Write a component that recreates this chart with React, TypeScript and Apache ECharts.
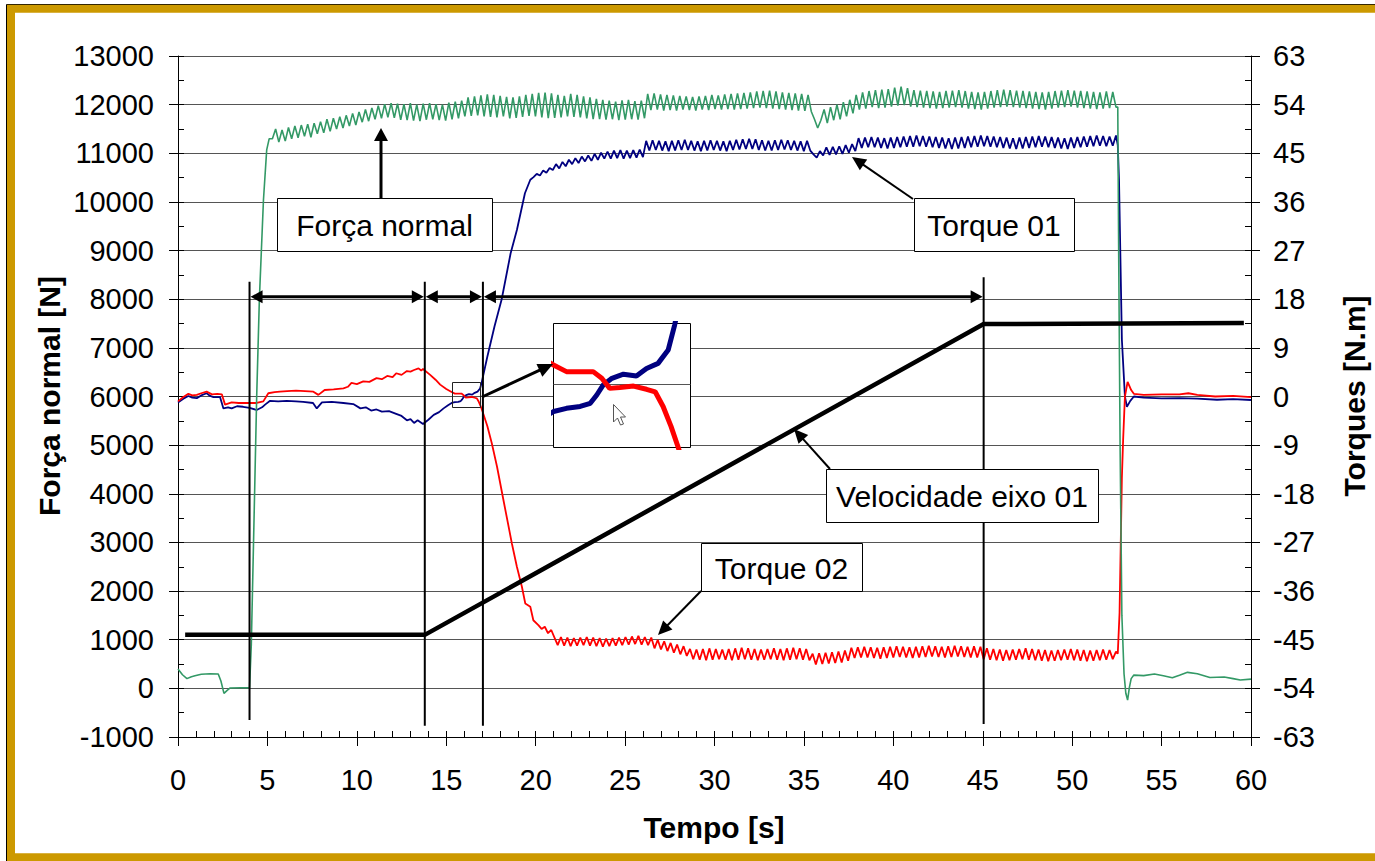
import React, { useEffect, useRef } from "react";
import * as echarts from "echarts";

const FONT = "'Liberation Sans', Arial, Helvetica, sans-serif";

// ---- axes ----
const timeAxis = { min: 0, max: 60, step: 5 };
const forceAxis = { min: -1000, max: 13000, step: 1000 };
const torqueAxis = { min: -63, max: 63, step: 9 };
const insetTime = { min: 15.3, max: 17.2 };
const insetTorque = { min: -2.77, max: 2.64 };

// ---- Força normal [N] ----
const forcePre: number[][] = [
  [0, 397], [0.25, 280], [0.5, 200], [0.75, 240], [0.95, 259], [1.3, 290], [1.8, 300], [2.25, 294],
  [2.4, 150], [2.57, -103], [2.75, -40], [2.9, 6], [3.5, 12], [4.0, 12], [4.1, 900], [4.2, 2600],
  [4.3, 4300], [4.4, 6000], [4.55, 8000], [4.78, 10050], [4.96, 11070], [5.1, 11300],
];
const forceWaveSpan = [5.28, 52.45];
const forceWave = [
  11300, 11500, 11230, 11480, 11250, 11530,
  11300, 11560, 11320, 11580, 11350, 11600, 11330, 11620, 11400, 11650, 11420,
  11700, 11450, 11720, 11500, 11750, 11520, 11780, 11560, 11820, 11580, 11850,
  11640, 11900, 11660, 11930, 11700, 11980, 11720, 12010, 11740, 12030, 11730,
  12020, 11690, 12010, 11680, 12030, 11670, 12000, 11660, 12020, 11690, 12030, 11700, 12010, 11680, 12000, 11670, 12040, 11700, 12060, 11720, 12080,
  11760, 12150, 11770, 12170, 11780, 12190, 11760, 12210, 11750, 12200, 11740, 12180, 11760, 12160, 11720, 12150, 11730, 12170, 11750, 12200, 11770, 12220, 11760,
  12240, 11740, 12250, 11720, 12230, 11730, 12200, 11740, 12180, 11760, 12220, 11750, 12200, 11740, 12170, 11720, 12150, 11700, 12120, 11700,
  12100, 11690, 12080, 11700, 12060, 11680, 12090, 11690, 12100, 11700, 12070, 11690, 12080, 11720,
  12220, 11890, 12230, 11900, 12210, 11880, 12200, 11890, 12190, 11880, 12180, 11900, 12170, 11890, 12160, 11880, 12170, 11900, 12180, 11890, 12200, 11910, 12190, 11900, 12210,
  11910, 12220, 11900, 12230, 11910, 12240, 11920, 12250, 11930, 12270, 11940, 12280, 11930, 12290, 11920, 12270, 11910, 12250, 11900, 12240, 11890, 12230, 11880, 12220, 11870, 12200, 11860,
  11700, 11520, 11680,
  11900, 11620, 11950, 11680, 12000, 11700, 12050, 11760, 12100, 11820,
  12200, 11900, 12250, 11920, 12280, 11950, 12300, 11930, 12310, 11940,
  12320, 11960, 12350, 11980, 12370, 11990, 12340, 11960, 12300, 11950,
  12290, 11940, 12280, 11930, 12270, 11920, 12260, 11930, 12280, 11940,
  12290, 11950, 12300, 11940, 12280, 11920, 12260, 11910, 12250, 11900,
  12260, 11920, 12280, 11940, 12300, 11950, 12310, 11960, 12300, 11950,
  12290, 11940, 12280, 11930, 12270, 11920, 12260, 11910, 12250, 11900,
  12260, 11920, 12280, 11940, 12290, 11950, 12300, 11960, 12290, 11940,
  12280, 11930, 12270, 11920, 12260, 11910, 12250, 11920, 12270, 11930,
  12260, 11950,
];
const forceTail: number[][] = [
  [52.55, 11950], [52.6, 9000], [52.68, 5000], [52.78, 1500], [52.9, 300], [53.0, -100], [53.1, -240],
  [53.2, 20], [53.3, 200], [53.45, 273], [54.0, 262], [54.6, 294], [55.1, 260], [55.6, 218], [56.0, 270],
  [56.45, 329], [57.0, 300], [57.7, 224], [58.5, 235], [59.0, 200], [59.4, 171], [60, 190],
];

// ---- Torque 01 [N.m] ----
const torque1Pre: number[][] = [
  [0, -1.1], [0.3, -0.4], [0.58, 0.1], [0.8, -0.2], [1.05, -0.3], [1.3, 0.2], [1.6, 0.6], [1.8, 0.1],
  [1.98, -0.1], [2.35, -0.1], [2.54, -2.2], [2.8, -2.0], [3.0, -2.2], [3.3, -1.8], [3.64, -1.9], [4.0, -2.1],
  [4.4, -2.5], [4.7, -2.0], [4.87, -1.5], [5.15, -0.8], [5.6, -0.9], [6.08, -0.8], [6.6, -0.9], [7.0, -1.0],
  [7.55, -1.2], [7.76, -2.2], [8.05, -1.1], [8.6, -1.0], [9.25, -1.2], [9.8, -1.4], [10.2, -2.2], [10.5, -2.0],
  [10.8, -2.6], [11.1, -2.4], [11.4, -2.8], [11.8, -2.7], [12.2, -3.2], [12.5, -3.6], [12.8, -4.4], [13.0, -4.2],
  [13.2, -4.9], [13.4, -4.4], [13.7, -5.1], [14.0, -4.3], [14.3, -3.4], [14.6, -2.9], [14.85, -2.2], [15.1, -1.6],
  [15.3, -1.2], [15.48, -1.06], [15.67, -0.98], [15.81, -0.84], [15.9, -0.48], [15.99, -0.04], [16.11, 0.25],
  [16.27, 0.43], [16.45, 0.35], [16.59, 0.68], [16.75, 0.9], [16.89, 1.48], [16.98, 2.57], [17.3, 7.4],
  [17.7, 13], [18.1, 18], [18.6, 26.5], [18.95, 30.8], [19.4, 37.6], [19.7, 40.1],
];
const torque1WaveSpan = [19.88, 52.45];
const torque1Wave = [
  40.6, 41.2, 40.9, 41.8, 41.4, 42.3, 41.9,
  43.0, 42.2, 43.4, 42.6, 43.8, 43.0, 44.1, 43.2, 44.4, 43.5, 44.6, 43.6, 44.9, 43.8, 45.1, 44.0, 45.3,
  44.0, 45.5, 44.1, 45.6, 44.0, 45.5, 44.1, 45.6, 44.2, 45.7, 44.3,
  47.3, 45.5, 47.4, 45.6, 47.3, 45.5, 47.2, 45.4, 47.3, 45.5,
  47.4, 45.6, 47.5, 45.6, 47.3, 45.5, 47.2, 45.4, 47.3, 45.5,
  47.4, 45.6, 47.3, 45.5, 47.2, 45.4, 47.3, 45.6, 47.5, 45.7,
  47.6, 45.8, 47.7, 45.8, 47.6, 45.6, 47.4, 45.5, 47.3, 45.5,
  47.4, 45.6, 47.5, 45.7, 47.4, 45.6, 47.3, 45.5, 47.2, 45.4,
  47.3, 45.5,
  44.8, 44.2, 45.4,
  44.6, 46.1, 44.7, 46.2, 44.8, 46.3, 44.9, 46.5, 45.1, 46.7, 45.4,
  47.8, 46.0, 47.9, 46.1, 48.0, 46.1, 47.9, 46.0, 47.8, 45.9,
  47.9, 46.0, 48.0, 46.1, 48.1, 46.2, 48.2, 46.2, 48.3, 46.3,
  48.2, 46.2, 48.1, 46.1, 48.0, 46.0, 47.9, 45.9, 47.8, 45.8,
  47.9, 45.9, 48.0, 46.0, 48.1, 46.1, 48.2, 46.2, 48.3, 46.3,
  48.2, 46.2, 48.1, 46.1, 48.0, 46.0, 47.9, 45.9, 47.8, 45.8,
  47.9, 45.9, 48.0, 46.0, 48.1, 46.1, 48.2, 46.2, 48.1, 46.1,
  48.0, 46.0, 47.9, 45.9, 47.8, 45.8, 47.9, 46.0, 48.0, 46.1,
  48.1, 46.2, 48.2, 46.3, 48.3, 46.4, 48.2, 46.3, 48.1, 46.4,
  48.3,
];
const torque1Tail: number[][] = [
  [52.55, 46.5], [52.62, 40], [52.78, 10.5], [52.95, 0], [53.06, -1.9], [53.25, -0.8], [53.45, 0],
  [54.0, -0.2], [55.0, -0.35], [56.0, -0.3], [57.0, -0.4], [58.1, -0.6], [59.0, -0.5], [60, -0.65],
];

// ---- Torque 02 [N.m] ----
const torque2Pre: number[][] = [
  [0, -0.9], [0.3, -0.1], [0.58, 0.5], [0.8, 0.2], [1.05, 0.3], [1.3, 0.6], [1.6, 0.9], [1.9, 0.4],
  [2.2, 0.5], [2.45, 0.4], [2.63, -1.5], [3.0, -1.1], [3.4, -1.2], [3.84, -1.2], [4.4, -1.2], [4.77, -0.9],
  [5.05, 0.6], [5.4, 0.8], [5.7, 0.9], [6.1, 1.0], [6.6, 1.1], [7.1, 1.0], [7.57, 0.9], [7.85, 0.3],
  [8.2, 1.2], [8.7, 1.3], [9.25, 1.5], [9.5, 1.8], [9.7, 2.5], [10.0, 2.3], [10.36, 2.8], [10.7, 2.7],
  [11.1, 3.4], [11.4, 3.2], [11.7, 3.8], [12.0, 3.6], [12.2, 4.3], [12.5, 4.0], [12.8, 4.7], [13.0, 4.6],
  [13.2, 4.9], [13.45, 5.2], [13.6, 4.8], [13.7, 5.1], [14.1, 4.0], [14.4, 3.1], [14.66, 2.2], [15.0, 1.4],
  [15.3, 0.83], [15.48, 0.54], [15.67, 0.54], [15.85, 0.54], [15.97, 0.25], [16.08, -0.19], [16.22, -0.15],
  [16.41, -0.09], [16.59, -0.23], [16.71, -0.34], [16.82, -0.98], [16.93, -1.85], [17.03, -2.77],
  [17.3, -5.5], [17.55, -8.7], [17.84, -13.0], [18.2, -19.2], [18.67, -27.2], [18.95, -31.5], [19.23, -35.2],
  [19.42, -38.3], [19.7, -38.9], [19.87, -41.4], [20.15, -42.3],
];
const torque2WaveSpan = [20.33, 52.45];
const torque2Wave = [
  -43.0, -42.6, -43.8, -43.2,
  -44.6, -46.0, -44.5, -46.1, -44.6, -46.2, -44.7, -46.1, -44.6, -46.0,
  -44.5, -46.1, -44.6, -46.2, -44.7, -46.3, -44.8, -46.2, -44.7, -46.1,
  -44.6, -46.0, -44.5, -45.9, -44.4, -45.8, -44.3, -45.9, -44.5, -46.0, -44.6,
  -46.6, -45.0, -46.8, -45.3, -47.1, -45.6, -47.4, -45.9, -47.7, -46.2, -48.0,
  -46.7, -48.6, -46.8, -48.7, -46.7, -48.8, -46.6, -48.7, -46.7, -48.6,
  -46.8, -48.7, -46.7, -48.8, -46.6, -48.7, -46.5, -48.6, -46.6, -48.7,
  -46.7, -48.8, -46.8, -48.7, -46.7, -48.6, -46.6, -48.7, -46.7, -48.8,
  -46.6, -48.7, -46.5, -48.6, -46.6, -48.7, -46.7, -48.8,
  -47.6, -49.6, -47.5, -49.5, -47.4, -49.4, -47.3, -49.3, -47.2, -49.2, -47.0, -48.9,
  -46.5, -48.4, -46.4, -48.3, -46.3, -48.3, -46.4, -48.4, -46.5, -48.5,
  -46.4, -48.4, -46.3, -48.3, -46.2, -48.2, -46.3, -48.3, -46.4, -48.4,
  -46.3, -48.3, -46.2, -48.2, -46.1, -48.1, -46.2, -48.2, -46.3, -48.3,
  -46.2, -48.2, -46.1, -48.1, -46.2, -48.2, -46.3, -48.3, -46.2, -48.3, -46.3,
  -48.6, -46.6, -48.7, -46.7, -48.8, -46.8, -48.9, -46.9, -48.8, -46.8,
  -48.7, -46.7, -48.6, -46.6, -48.7, -46.7, -48.8, -46.8, -48.9, -46.9,
  -49.0, -47.0, -48.9, -46.9, -48.8, -46.8, -48.7, -46.7, -48.8, -46.8,
  -48.9, -46.9, -49.0, -47.0, -48.9, -46.9, -48.8, -46.8, -48.7, -46.9,
  -48.6, -47.2,
];
const torque2Tail: number[][] = [
  [52.55, -47.6], [52.65, -40], [52.78, -15], [52.85, -8], [52.95, 0], [53.1, 2.7], [53.3, 1.2], [53.45, 0.5],
  [54, 0.3], [55, 0.4], [56, 0.4], [56.5, 0.6], [57, 0.3], [58, 0.0], [59, 0.1], [60, -0.1],
];

// ---- Velocidade eixo 01 (drawn on the force scale) ----
const speedTimes = [0.4, 13.8, 45.05, 59.6];
const speedValues = [1100, 1100, 7490, 7510];

// ---- phase markers ----
const phaseTimes = [4.0, 13.8, 17.05, 45.05];
const phaseTop = [8360, 8360, 8360, 8450];
const phaseBottom = [-650, -770, -770, -735];
const phaseArrowLevel = 8050;

function wavePoints(wave: number[], span: number[]) {
  const n = wave.length;
  return wave.map((v, i) => [span[0] + ((span[1] - span[0]) * i) / (n - 1), v]);
}

const forceData = [...forcePre, ...wavePoints(forceWave, forceWaveSpan), ...forceTail];
const torque1Data = [...torque1Pre, ...wavePoints(torque1Wave, torque1WaveSpan), ...torque1Tail];
const torque2Data = [...torque2Pre, ...wavePoints(torque2Wave, torque2WaveSpan), ...torque2Tail];
const speedData = speedTimes.map((t, i) => [t, speedValues[i]]);

function arrowEls(x1: number, y1: number, x2: number, y2: number, w: number, L: number, HW: number, z: number) {
  const dx = x2 - x1, dy = y2 - y1;
  const d = Math.hypot(dx, dy);
  const ux = dx / d, uy = dy / d;
  const bx = x2 - ux * L, by = y2 - uy * L;
  return [
    { type: "line", z, shape: { x1, y1, x2: bx + ux, y2: by + uy }, style: { stroke: "#000", lineWidth: w } },
    {
      type: "polygon", z,
      shape: { points: [[x2, y2], [bx - uy * HW, by + ux * HW], [bx + uy * HW, by - ux * HW]] },
      style: { fill: "#000" },
    },
  ];
}

function labelBox(x: number, y: number, w: number, h: number, text: string) {
  return [
    { type: "rect", z: 100, shape: { x: x + 0.5, y: y + 0.5, width: w, height: h }, style: { fill: "#fff", stroke: "#000", lineWidth: 1 } },
    {
      type: "text", z: 101, x: x + w / 2, y: y + h / 2 + 1,
      style: { text, fontSize: 30, fontFamily: FONT, fill: "#000", align: "center", verticalAlign: "middle" },
    },
  ];
}

const phaseRender = (params: any, api: any) => {
  const i = params.dataIndex;
  const t = api.value(0);
  const top = api.coord([t, api.value(1)]);
  const bot = api.coord([t, api.value(2)]);
  const children: any[] = [
    { type: "line", shape: { x1: top[0], y1: top[1], x2: bot[0], y2: bot[1] }, style: { stroke: "#000", lineWidth: 2 } },
  ];
  if (i < phaseTimes.length - 1) {
    const a = api.coord([t, phaseArrowLevel]);
    const b = api.coord([phaseTimes[i + 1], phaseArrowLevel]);
    const L = 13, HW = 6.5;
    children.push({ type: "line", shape: { x1: a[0] + L - 1, y1: a[1], x2: b[0] - L + 1, y2: b[1] }, style: { stroke: "#000", lineWidth: 3 } });
    children.push({ type: "polygon", shape: { points: [[a[0] + 1, a[1]], [a[0] + L, a[1] - HW], [a[0] + L, a[1] + HW]] }, style: { fill: "#000" } });
    children.push({ type: "polygon", shape: { points: [[b[0] - 1, b[1]], [b[0] - L, b[1] - HW], [b[0] - L, b[1] + HW]] }, style: { fill: "#000" } });
  }
  return { type: "group", children };
};

const plainNumber = (v: number) => String(v);
const labelStyle = { fontSize: 29, color: "#000", fontFamily: FONT, formatter: plainNumber };

function buildOption() {
  const gold = "#CC9900";
  const graphic: any[] = [
    // frame: thin black outline and gold band (top, left, bottom)
    { type: "line", z: 0, shape: { x1: 6.5, y1: 4.5, x2: 1375, y2: 4.5 }, style: { stroke: "#000", lineWidth: 1 } },
    { type: "line", z: 0, shape: { x1: 6.5, y1: 4.5, x2: 6.5, y2: 861 }, style: { stroke: "#000", lineWidth: 1 } },
    { type: "line", z: 0, shape: { x1: 7, y1: 8.75, x2: 1375, y2: 8.75 }, style: { stroke: gold, lineWidth: 8 } },
    { type: "line", z: 0, shape: { x1: 11, y1: 5, x2: 11, y2: 861 }, style: { stroke: gold, lineWidth: 8 } },
    { type: "line", z: 0, shape: { x1: 7, y1: 857.25, x2: 1375, y2: 857.25 }, style: { stroke: gold, lineWidth: 8 } },
    // axis titles
    {
      type: "text", z: 10, x: 49, y: 396, rotation: Math.PI / 2,
      style: { text: "Força normal [N]", fontSize: 30, fontWeight: "bold", fontFamily: FONT, fill: "#000", align: "center", verticalAlign: "middle" },
    },
    {
      type: "text", z: 10, x: 1354, y: 396, rotation: Math.PI / 2,
      style: { text: "Torques [N.m]", fontSize: 30, fontWeight: "bold", fontFamily: FONT, fill: "#000", align: "center", verticalAlign: "middle" },
    },
    {
      type: "text", z: 10, x: 714, y: 827,
      style: { text: "Tempo [s]", fontSize: 30, fontWeight: "bold", fontFamily: FONT, fill: "#000", align: "center", verticalAlign: "middle" },
    },
    // zoom box on the main plot
    { type: "rect", z: 20, shape: { x: 452.5, y: 382.5, width: 28, height: 25 }, style: { fill: "none", stroke: "#222", lineWidth: 1 } },
    ...arrowEls(482, 397, 553, 364, 3, 15, 7, 20),
    // mouse cursor inside the inset
    {
      type: "polygon", z: 20,
      shape: { points: [[613.5, 404.5], [613.5, 422], [617.5, 418], [620.5, 425], [623.5, 424], [620.5, 417], [625.5, 417]] },
      style: { fill: "#fff", stroke: "#555", lineWidth: 1 },
    },
    // callouts
    ...labelBox(277, 198, 215, 53, "Força normal"),
    ...arrowEls(381, 198, 381, 128, 3, 13, 7, 100),
    ...labelBox(914, 198, 160, 53, "Torque 01"),
    ...arrowEls(913, 199, 852, 157, 2, 14, 6.5, 100),
    ...labelBox(701, 543, 161, 48, "Torque 02"),
    ...arrowEls(701, 591, 658, 635, 2, 14, 6.5, 100),
    ...labelBox(826, 469, 272, 53, "Velocidade eixo 01"),
    ...arrowEls(830, 469, 794, 429, 2, 14, 6.5, 100),
  ];

  return {
    animation: false,
    backgroundColor: "#fff",
    textStyle: { fontFamily: FONT },
    grid: [
      { left: 178, right: 124, top: 56, bottom: 124, outerBoundsMode: "none", containLabel: false },
      { left: 553.5, top: 323.5, width: 137, height: 124, show: true, backgroundColor: "#fff", borderColor: "#000", borderWidth: 1, z: 1, outerBoundsMode: "none" },
    ],
    xAxis: [
      {
        type: "value", gridIndex: 0, position: "bottom", min: timeAxis.min, max: timeAxis.max, interval: timeAxis.step,
        axisLine: { show: true, onZero: false, lineStyle: { color: "#000", width: 1 } },
        axisTick: { show: true, inside: false, length: 9, lineStyle: { color: "#000", width: 1 } },
        minorTick: { show: false },
        axisLabel: { ...labelStyle, margin: 28 },
        splitLine: { show: false },
      },
      {
        type: "value", gridIndex: 0, position: "bottom", min: timeAxis.min, max: timeAxis.max, interval: timeAxis.step,
        axisLine: { show: false, onZero: false },
        axisTick: { show: true, inside: true, length: 6, lineStyle: { color: "#000", width: 1 } },
        minorTick: { show: true, splitNumber: 5, length: 6, lineStyle: { color: "#000", width: 1 } },
        axisLabel: { show: false },
        splitLine: { show: false },
      },
      { type: "value", gridIndex: 1, min: insetTime.min, max: insetTime.max, show: false },
    ],
    yAxis: [
      {
        type: "value", gridIndex: 0, position: "left", min: forceAxis.min, max: forceAxis.max, interval: forceAxis.step,
        axisLine: { show: true, onZero: false, lineStyle: { color: "#000", width: 1 } },
        axisTick: { show: true, inside: false, length: 9, lineStyle: { color: "#000", width: 1 } },
        axisLabel: { ...labelStyle, margin: 24 },
        splitLine: { show: true, lineStyle: { color: "#555", width: 1 } },
      },
      {
        type: "value", gridIndex: 0, position: "left", min: forceAxis.min, max: forceAxis.max, interval: forceAxis.step,
        axisLine: { show: false, onZero: false },
        axisTick: { show: true, inside: true, length: 6, lineStyle: { color: "#000", width: 1 } },
        minorTick: { show: true, splitNumber: 2, length: 6, lineStyle: { color: "#000", width: 1 } },
        axisLabel: { show: false },
        splitLine: { show: false },
      },
      {
        type: "value", gridIndex: 0, position: "right", min: torqueAxis.min, max: torqueAxis.max, interval: torqueAxis.step,
        axisLine: { show: true, onZero: false, lineStyle: { color: "#000", width: 1 } },
        axisTick: { show: true, inside: false, length: 9, lineStyle: { color: "#000", width: 1 } },
        axisLabel: { ...labelStyle, margin: 22 },
        splitLine: { show: false },
      },
      {
        type: "value", gridIndex: 0, position: "right", min: torqueAxis.min, max: torqueAxis.max, interval: torqueAxis.step,
        axisLine: { show: false, onZero: false },
        axisTick: { show: true, inside: true, length: 6, lineStyle: { color: "#000", width: 1 } },
        minorTick: { show: true, splitNumber: 2, length: 6, lineStyle: { color: "#000", width: 1 } },
        axisLabel: { show: false },
        splitLine: { show: false },
      },
      { type: "value", gridIndex: 1, min: insetTorque.min, max: insetTorque.max, show: false },
    ],
    series: [
      {
        name: "Torque 01", type: "line", xAxisIndex: 0, yAxisIndex: 2, data: torque1Data,
        symbol: "none", showSymbol: false, lineStyle: { color: "#000080", width: 1.8 }, z: 2, silent: true,
      },
      {
        name: "Torque 02", type: "line", xAxisIndex: 0, yAxisIndex: 2, data: torque2Data,
        symbol: "none", showSymbol: false, lineStyle: { color: "#FF0000", width: 1.8 }, z: 2, silent: true,
      },
      {
        name: "Força normal", type: "line", xAxisIndex: 0, yAxisIndex: 0, data: forceData,
        symbol: "none", showSymbol: false, lineStyle: { color: "#339966", width: 1.6 }, z: 2, silent: true,
      },
      {
        name: "Velocidade eixo 01", type: "line", xAxisIndex: 0, yAxisIndex: 0, data: speedData,
        symbol: "none", showSymbol: false, lineStyle: { color: "#000", width: 4.5 }, z: 3, silent: true,
      },
      {
        name: "Fases", type: "custom", xAxisIndex: 0, yAxisIndex: 0,
        data: phaseTimes.map((t, i) => [t, phaseTop[i], phaseBottom[i]]),
        renderItem: phaseRender, z: 4, silent: true, clip: false,
      },
      {
        name: "Torque 01 (detalhe)", type: "line", xAxisIndex: 2, yAxisIndex: 4, data: torque1Data,
        symbol: "none", showSymbol: false, lineStyle: { color: "#000080", width: 5 }, z: 6, silent: true, clip: true,
        markLine: {
          silent: true, symbol: "none", z: 5, label: { show: false },
          lineStyle: { color: "#555", width: 1, type: "solid" },
          data: [{ yAxis: 0 }],
        },
      },
      {
        name: "Torque 02 (detalhe)", type: "line", xAxisIndex: 2, yAxisIndex: 4, data: torque2Data,
        symbol: "none", showSymbol: false, lineStyle: { color: "#FF0000", width: 5 }, z: 6, silent: true, clip: true,
      },
    ],
    graphic,
  };
}

export default function App() {
  const ref = useRef<HTMLDivElement>(null);
  useEffect(() => {
    if (!ref.current) return;
    const chart = echarts.init(ref.current, undefined, { renderer: "svg" });
    chart.setOption(buildOption() as any);
    return () => chart.dispose();
  }, []);
  return (
    <div
      ref={ref}
      style={{ position: "fixed", left: 0, top: 0, width: 1375, height: 861, background: "#fff" }}
    />
  );
}
